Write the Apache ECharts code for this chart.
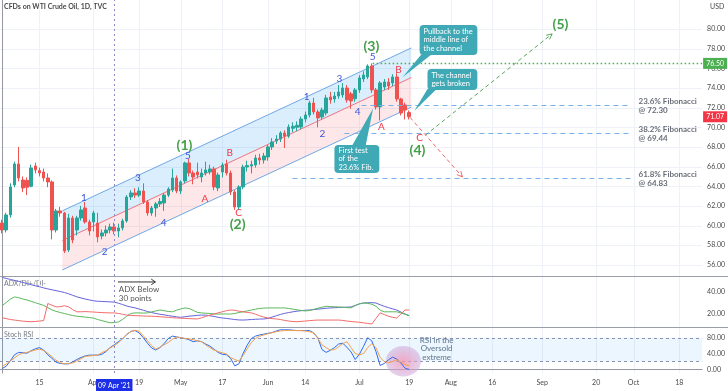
<!DOCTYPE html>
<html>
<head>
<meta charset="utf-8">
<script src="https://cdn.jsdelivr.net/npm/echarts@6.0.0/dist/echarts.min.js"></script>
<style>
html,body{margin:0;padding:0;background:#ffffff;}
#chart{width:728px;height:391px;}
</style>
</head>
<body>
<div id="chart"></div>
<script>
// ================= DATA =================
const holidays = ['2021-04-02'];
const categoryCount = 169;
const categories = [];
(function () {
  const d = new Date(Date.UTC(2021, 2, 2));
  while (categories.length < categoryCount) {
    const wd = d.getUTCDay();
    const s = d.toISOString().slice(0, 10);
    if (wd !== 0 && wd !== 6 && holidays.indexOf(s) < 0) categories.push(s);
    d.setUTCDate(d.getUTCDate() + 1);
  }
})();

const dateTickDates = ['2021-03-15','2021-04-01','2021-04-09','2021-04-19','2021-05-03','2021-05-17','2021-06-01','2021-06-14','2021-07-01','2021-07-19','2021-08-02','2021-08-16','2021-09-01','2021-09-20','2021-10-01','2021-10-18'];
const dateTickLabels = ['15','Apr',"09 Apr '21",'19','May','17','Jun','14','Jul','19','Aug','16','Sep','20','Oct','18'];
const markedDate = '2021-04-09';

// [open, close, low, high]
const candles = [
[60.26,59.55,59.2,60.6],[59.55,61.08,59.3,61.3],[61.08,63.93,60.8,64.3],[64.13,66.27,63.9,66.5],[66.27,64.84,64.5,68.0],
[64.64,63.83,63.4,65.0],[64.6,63.9,63.1,64.9],[64.0,65.86,63.9,66.2],[66.06,65.66,65.3,66.4],[65.6,65.35,65.0,65.9],
[65.45,64.84,64.5,65.8],[64.84,64.44,63.9,65.3],[64.44,59.55,58.6,64.6],[59.55,61.49,59.3,61.7],[61.49,61.28,60.9,61.9],
[61.28,57.42,57.2,61.4],[57.52,60.77,57.3,61.2],[60.77,58.54,58.2,61.0],[59.55,60.77,59.0,61.0],[60.77,61.59,60.5,62.0],
[61.79,60.37,60.2,62.4],[60.37,59.45,59.0,60.6],[60.37,61.28,59.4,61.5],[60.26,58.84,58.3,61.3],[58.94,59.25,58.6,59.6],
[59.25,59.55,58.9,60.0],[59.55,59.86,59.2,60.2],[59.86,59.45,59.1,60.3],[59.45,59.76,58.8,60.2],[59.76,60.47,59.5,60.7],
[60.47,62.91,60.3,63.1],[62.91,63.32,62.6,63.6],[63.32,63.1,62.8,63.8],[63.1,63.52,62.9,63.9],[63.52,62.4,62.2,64.3],
[62.4,61.28,61.0,62.6],[61.28,61.79,61.0,62.0],[61.79,62.2,60.9,62.4],[62.2,62.45,61.9,62.8],[62.3,63.1,61.5,63.3],
[63.1,63.72,62.9,63.9],[63.62,64.84,63.4,65.8],[64.84,63.52,63.3,65.1],[63.52,64.44,63.2,64.6],[64.54,66.37,64.3,66.5],
[66.37,65.35,65.0,66.8],[65.35,64.94,64.2,65.6],[65.45,65.15,64.8,66.4],[64.94,65.35,64.4,65.8],[65.35,65.66,65.1,66.5],
[65.45,65.76,65.2,66.2],[65.76,63.93,63.6,66.0],[63.83,65.15,63.5,65.4],[65.45,66.16,64.9,66.4],[66.27,65.35,65.1,66.7],
[65.35,63.42,63.1,65.6],[63.42,61.89,61.6,63.6],[61.89,63.93,61.6,64.1],[63.93,65.96,63.7,66.2],[65.96,66.1,65.5,66.6],
[66.06,66.2,65.3,66.6],[66.16,66.88,65.9,67.2],[66.88,66.67,66.2,67.3],[66.67,67.08,66.3,67.4],[66.98,68.0,66.6,68.2],
[68.0,68.5,67.7,68.9],[68.6,68.8,68.3,69.2],[68.8,69.42,68.5,69.6],[69.42,69.1,67.9,69.7],[69.1,70.03,68.9,70.3],
[69.9,70.1,69.5,70.5],[70.0,70.2,69.6,70.6],[70.03,70.84,69.8,71.1],[70.84,71.25,70.5,71.6],[71.25,72.47,71.0,72.7],
[72.47,71.56,71.3,73.0],[71.56,70.95,70.0,71.8],[71.05,71.76,70.8,72.0],[71.45,72.98,71.2,73.3],[73.08,72.78,72.4,73.6],
[72.88,73.18,72.5,73.6],[73.18,73.59,72.9,74.3],[73.29,74.0,73.0,74.5],[74.0,72.78,72.5,74.3],[73.4,72.68,71.9,73.6],
[72.9,73.8,72.6,74.0],[73.8,75.02,73.5,75.3],[74.91,75.32,74.6,75.7],[75.12,76.24,74.9,76.4],[76.24,73.8,73.5,76.5],
[73.8,72.07,71.8,74.0],[72.07,74.51,70.7,74.7],[74.1,74.61,73.8,74.9],[74.6,74.2,73.8,75.0],[74.51,75.12,74.2,75.4],
[75.12,72.88,72.6,75.5],[72.88,71.45,71.2,73.0],[72.27,71.76,70.8,72.5],[71.5,71.07,70.8,71.7]
];

const adx = [53.2,52.3,51.4,50.5,49.6,48.7,47.6,46.6,45.6,44.8,43.7,42.8,42.0,41.2,40.4,39.5,38.4,37.0,35.6,34.6,
33.6,32.8,32.0,31.6,31.4,31.2,31.0,30.8,29.8,28.6,27.3,26.3,25.6,24.5,23.4,22.3,21.3,20.5,19.8,19.2,
18.6,18.0,17.4,17.0,17.5,18.0,18.4,18.8,19.0,19.0,18.4,17.8,17.0,16.4,16.0,15.5,15.0,14.6,14.5,14.7,
15.0,15.2,15.4,15.5,16.0,17.2,18.4,19.6,20.6,21.3,22.0,22.6,23.0,23.4,23.6,24.0,24.4,24.8,25.2,25.5,
25.7,25.9,26.1,26.2,26.4,27.8,29.2,30.0,30.2,30.3,30.0,28.4,27.0,25.8,24.7,23.6,21.8,20.0,18.3];
const diPlus = [27.5,30.5,33.5,35.5,34.8,33.6,32.7,31.5,30.3,29.0,27.8,25.8,23.8,22.4,21.4,20.4,19.5,18.6,18.0,17.6,
17.2,16.8,16.3,15.0,14.0,13.0,12.0,12.3,12.8,15.0,18.0,20.5,21.0,21.0,20.8,21.0,22.0,22.8,23.6,23.0,
22.3,22.0,23.5,24.6,25.5,25.0,23.4,21.5,21.0,20.7,20.5,20.0,20.0,20.0,20.0,20.0,20.4,21.4,22.0,22.8,
23.6,24.4,25.0,25.4,25.5,25.5,25.5,25.5,25.5,25.0,24.4,23.8,23.2,22.8,23.2,24.2,25.2,26.2,27.0,26.8,
26.6,26.4,26.1,25.8,25.6,27.6,29.2,30.0,29.6,28.9,27.0,23.5,22.0,22.0,22.0,22.0,21.0,19.8,18.6];
const diMinus = [16.6,15.8,15.0,14.5,14.0,13.5,13.2,13.0,13.2,13.6,14.0,29.5,28.0,26.5,26.6,27.5,26.5,24.0,22.0,22.0,
22.2,22.0,21.8,21.5,21.3,21.1,21.0,21.0,20.5,19.8,19.0,18.7,18.5,18.4,18.2,18.0,18.0,17.8,17.5,17.2,
17.0,16.6,16.4,16.2,16.0,15.8,15.6,15.5,16.5,17.8,19.0,20.0,21.0,22.0,23.0,23.6,23.4,22.6,22.0,21.4,
21.0,19.8,18.4,17.2,16.4,15.8,15.5,15.0,14.2,13.6,13.2,13.0,13.3,13.6,14.0,14.3,14.5,14.5,14.5,14.5,
14.5,14.5,14.2,13.6,13.2,12.8,12.5,12.0,11.4,11.0,16.0,21.0,19.5,18.0,17.0,16.4,20.0,23.6,23.6];
const stochK = [2,8,22,37,43,42,41,47,52,55,49,37,28,18,15,14,14,19,25,30,
34,36,36,36,38,45,55,62,70,77,88,96,98,92,80,66,54,49,55,65,
78,84,82,80,78,75,70,72,70,64,59,51,43,38,37,28,9,14,40,61,
78,84,87,89,91,93,97,100,100,100,99,98,98,98,98,92,80,50,43,48,
55,64,66,56,44,25,38,58,80,72,45,10,15,24,31,26,16,3,0];
const stochD = [7,14,21,29,37,41,43,46,49,51,48,41,32,23,17,14,15,16,21,27,
33,34,35,36,42,47,54,60,67,78,89,95,99,96,85,72,60,51,56,62,
68,76,82,80,78,77,75,72,70,62,55,49,45,42,39,30,25,21,35,52,
68,78,84,87,90,93,95,97,98,98,98,98,98,97,95,92,78,62,55,49,
50,57,65,70,55,40,37,40,55,65,55,30,20,17,20,24,18,12,9];

const priceTicks = [56,58,60,62,64,66,68,70,72,74,76,78,80];
const adxTicks = [20,40];
const stochTicks = [0,40,80];
const stochBand = [20,80];

const fibNames = ['23.6%','38.2%','61.8%'];
const fibValues = [72.30,69.44,64.83];
const resistanceLevel = 76.50;
const lastPrice = 71.07;

// ================= ANNOTATION PLACEMENT (index, price) =================
const channelIdx = [14.5, 98.5];
const channelUpper = [61.5, 78.07];
const channelLower = [55.48, 72.05];
const fibStartIdx = [86.5, 82.4, 69.9];
const fibEndIdx = 151.4;
const fibLabelIdx = 153.2;
const resistanceStartIdx = 89.2;

const waveTexts = ['1','2','3','4','5','(1)','A','B','C','(2)','1','2','3','4','5','(3)','A','B','C','(4)','(5)'];
const waveKinds = ['b','b','b','b','b','g','r','r','r','g','b','b','b','b','b','g','r','r','r','g','g'];
const waveIdx = [19.7,24.7,32.7,38.9,44.7,43.9,48.8,54.8,56.95,56.7,73.3,77.1,81.2,85.6,89.2,88.9,91.3,95.4,100.5,100.0,134.4];
const wavePrice = [62.81,57.31,64.84,60.26,67.08,68.1,62.71,67.39,61.28,60.16,73.08,69.32,74.91,71.56,77.15,78.17,70.03,75.83,68.91,67.69,80.41];

const projRed = [[98.2, 71.0],[110.8, 64.95]];
const projGreen = [[101.9, 69.2],[132.4, 79.5]];

const callouts = [
  {text:'Pullback to the\nmiddle line of\nthe channel', box:[100.5,80.41,114.4,77.35], base:[101.0,103.5], baseSide:'bottom', tip:[96.4,75.1]},
  {text:'The channel\ngets broken', box:[102.4,75.93,114.4,73.79], base:[102.4,104.6], baseSide:'bottom', tip:[99.2,71.66]},
  {text:'First test\nof the\n23.6% Fib.', box:[80.0,68.2,90.8,65.35], base:[84.2,87.5], baseSide:'top', tip:[89.3,71.9]}
];

const adxArrow = [[27.9,49.1],[36.9,49.1]];
const adxNote = {text:'ADX Below\n30 points', at:[28.1,46.6]};
const rsiCircle = [96.6, 20.5];
const rsiNote = {text:'RSI in the\nOversold\nextreme', at:[104.6, 52]};

// ================= CHART =================
const FONT = "Lato, 'Open Sans', 'DejaVu Sans', sans-serif";
const chart = echarts.init(document.getElementById('chart'), null, {renderer:'canvas'});
const tickSet = {};
dateTickDates.forEach((d,i)=>{tickSet[d]=dateTickLabels[i];});
const tickIdx = dateTickDates.filter(d=>d!==markedDate).map(d=>categories.indexOf(d));

const gridDefs = [{top:0,height:276},{top:277,height:50},{top:328,height:50}];
const yRanges = [[54.87,82.95],[8.2,53.6],[-9.1,104.5]];

function hiddenCat(g){
  return {type:'category', gridIndex:g, data:categories, boundaryGap:true,
    axisLine:{show:false}, axisTick:{show:false}, axisLabel:{show:false}, splitLine:{show:false}};
}
function hiddenVal(g){
  return {type:'value', gridIndex:g, min:-0.5, max:categoryCount-0.5, show:false};
}
const bottomCat = {type:'category', gridIndex:2, data:categories, boundaryGap:true,
  axisLine:{show:true, lineStyle:{color:'#9598a1'}}, axisTick:{show:false},
  axisLabel:{show:true, fontSize:7, color:'#4a4a4a', margin:6, fontFamily:FONT, hideOverlap:false,
    interval:(i,v)=>tickSet[v]!==undefined,
    formatter:(v)=> v===markedDate ? '{hl|'+tickSet[v]+'}' : tickSet[v],
    rich:{hl:{backgroundColor:'#1c2fe6', color:'#ffffff', fontSize:7, padding:[3,2,2,2], fontFamily:FONT}}},
  splitLine:{show:false}};

function yAxisDef(g, ticks){
  return {type:'value', gridIndex:g, position:'right', min:yRanges[g][0], max:yRanges[g][1], scale:true,
    axisLine:{show:true, lineStyle:{color:'#9598a1'}},
    axisTick:{show:false, customValues:ticks},
    axisLabel:{show:true, customValues:ticks, fontSize:7, color:'#4a4a4a', margin:5, fontFamily:FONT,
      formatter:(v)=>Number(v).toFixed(2)},
    splitLine:{show:false}};
}

function arrowHead(p1, p2, len, spread){
  const a = Math.atan2(p2[1]-p1[1], p2[0]-p1[0]);
  return [[p2[0]-len*Math.cos(a-spread), p2[1]-len*Math.sin(a-spread)], p2,
          [p2[0]-len*Math.cos(a+spread), p2[1]-len*Math.sin(a+spread)]];
}

function gridSeries(g, hTicks){
  return {type:'custom', xAxisIndex:2*g+1, yAxisIndex:g, z:0, silent:true, data:[0],
    renderItem:(params, api)=>{
      const ch = [];
      const yr = yRanges[g];
      tickIdx.forEach(k=>{
        const a = api.coord([k, yr[0]]), b = api.coord([k, yr[1]]);
        ch.push({type:'line', shape:{x1:Math.round(a[0])+0.5,y1:a[1],x2:Math.round(a[0])+0.5,y2:b[1]}, style:{stroke:'#eef1f7', lineWidth:1}});
      });
      (hTicks||[]).forEach(v=>{
        const a = api.coord([-0.5, v]), b = api.coord([categoryCount-0.5, v]);
        ch.push({type:'line', shape:{x1:a[0],y1:Math.round(a[1])+0.5,x2:b[0],y2:Math.round(a[1])+0.5}, style:{stroke:'#eef1f7', lineWidth:1}});
      });
      return {type:'group', children:ch};
    }};
}

const kindColor = {b:'#3c55d8', r:'#f23645', g:'#43a047'};
const kindSize = {b:10, r:10, g:14};
const teal = '#3fa9b6';

const option = {
  animation:false,
  backgroundColor:'#ffffff',
  textStyle:{fontFamily:FONT},
  grid: gridDefs.map(g=>({left:0, right:25, top:g.top, height:g.height, containLabel:false})),
  xAxis:[hiddenCat(0), hiddenVal(0), hiddenCat(1), hiddenVal(1), bottomCat, hiddenVal(2)],
  yAxis:[yAxisDef(0, priceTicks), yAxisDef(1, adxTicks), yAxisDef(2, stochTicks)],
  graphic:[
    {type:'text', left:4, top:3, style:{text:'CFDs on WTI Crude Oil, 1D, TVC', fontSize:7, fontWeight:700, fill:'#4a4a4a', fontFamily:FONT}},
    {type:'text', left:710, top:3, style:{text:'USD', fontSize:7, fill:'#4a4a4a', fontFamily:FONT}},
    {type:'text', left:4, top:280, style:{text:'ADX/DI+/DI-', fontSize:7, fill:'#787b86', fontFamily:FONT}},
    {type:'text', left:4, top:331, style:{text:'Stoch RSI', fontSize:7, fill:'#787b86', fontFamily:FONT}},
    {type:'line', shape:{x1:0,y1:276.5,x2:728,y2:276.5}, style:{stroke:'#9a9ea8', lineWidth:1}, z:50},
    {type:'line', shape:{x1:0,y1:327.5,x2:728,y2:327.5}, style:{stroke:'#9a9ea8', lineWidth:1}, z:50}
  ],
  series:[
    gridSeries(0, priceTicks),
    gridSeries(1, []),
    gridSeries(2, []),
    {type:'custom', xAxisIndex:1, yAxisIndex:0, z:1, silent:true, data:[0],
      renderItem:(params, api)=>{
        const u0 = api.coord([channelIdx[0], channelUpper[0]]), u1 = api.coord([channelIdx[1], channelUpper[1]]);
        const l0 = api.coord([channelIdx[0], channelLower[0]]), l1 = api.coord([channelIdx[1], channelLower[1]]);
        const m0 = api.coord([channelIdx[0], (channelUpper[0]+channelLower[0])/2]);
        const m1 = api.coord([channelIdx[1], (channelUpper[1]+channelLower[1])/2]);
        return {type:'group', children:[
          {type:'polygon', shape:{points:[u0,u1,m1,m0]}, style:{fill:'rgba(33,150,243,0.16)'}},
          {type:'polygon', shape:{points:[m0,m1,l1,l0]}, style:{fill:'rgba(242,54,69,0.12)'}},
          {type:'line', shape:{x1:u0[0],y1:u0[1],x2:u1[0],y2:u1[1]}, style:{stroke:'#6fa8e6', lineWidth:1}},
          {type:'line', shape:{x1:l0[0],y1:l0[1],x2:l1[0],y2:l1[1]}, style:{stroke:'#6fa8e6', lineWidth:1}},
          {type:'line', shape:{x1:m0[0],y1:m0[1],x2:m1[0],y2:m1[1]}, style:{stroke:'#f07480', lineWidth:1}}
        ]};
      }},
    {type:'candlestick', xAxisIndex:0, yAxisIndex:0, z:3, data:candles, barWidth:3,
      itemStyle:{color:'#26a69a', color0:'#ef5350', borderColor:'#26a69a', borderColor0:'#ef5350', borderWidth:1},
      markLine:{symbol:'none', silent:true, label:{show:false}, lineStyle:{color:'#8d89c9', type:[2,3], width:1},
        data:[{xAxis:markedDate}]}},
    {type:'custom', xAxisIndex:1, yAxisIndex:0, z:4, silent:true, data:fibValues.map((v,i)=>[fibStartIdx[i], v]),
      renderItem:(params, api)=>{
        const i = params.dataIndex;
        const v = fibValues[i];
        const a = api.coord([fibStartIdx[i], v]), b = api.coord([fibEndIdx, v]);
        const t = api.coord([fibLabelIdx, v]);
        const ch = [
          {type:'line', shape:{x1:a[0],y1:Math.round(a[1])+0.5,x2:b[0],y2:Math.round(a[1])+0.5}, style:{stroke:'#79b0ea', lineWidth:1, lineDash:[5,4]}},
          {type:'text', x:t[0], y:t[1]+1, style:{text:fibNames[i]+' Fibonacci\n@ '+v.toFixed(2), fontSize:8, lineHeight:9, fill:'#6b6e78', fontWeight:700, verticalAlign:'middle', fontFamily:FONT}}
        ];
        if (i===0){
          const r0 = api.coord([resistanceStartIdx, resistanceLevel]), r1 = api.coord([categoryCount-0.5, resistanceLevel]);
          ch.push({type:'line', shape:{x1:r0[0],y1:Math.round(r0[1])+0.5,x2:r1[0],y2:Math.round(r0[1])+0.5}, style:{stroke:'#4caf50', lineWidth:1.3, lineDash:[1.5,2.5]}});
        }
        return {type:'group', children:ch};
      }},
    {type:'custom', xAxisIndex:1, yAxisIndex:0, z:5, silent:true, data:[0],
      renderItem:(params, api)=>{
        const ch = [];
        [[projRed,'#ef6a6a'],[projGreen,'#5aa65e']].forEach(([p,c])=>{
          const a = api.coord(p[0]), b = api.coord(p[1]);
          ch.push({type:'line', shape:{x1:a[0],y1:a[1],x2:b[0],y2:b[1]}, style:{stroke:c, lineWidth:1, lineDash:[4,3]}});
          ch.push({type:'polyline', shape:{points:arrowHead(a,b,6,0.45)}, style:{stroke:c, lineWidth:1, fill:null}});
        });
        return {type:'group', children:ch};
      }},
    {type:'custom', xAxisIndex:1, yAxisIndex:0, z:6, silent:true, data:waveIdx.map((k,i)=>[k, wavePrice[i]]),
      renderItem:(params, api)=>{
        const i = params.dataIndex;
        const p = api.coord([api.value(0), api.value(1)]);
        const kd = waveKinds[i];
        return {type:'text', x:p[0], y:p[1], style:{text:waveTexts[i], fill:kindColor[kd], fontSize:kindSize[kd],
          fontWeight: kd==='g'?700:400, align:'center', verticalAlign:'middle', fontFamily:FONT}};
      }},
    {type:'custom', xAxisIndex:1, yAxisIndex:0, z:8, silent:true, data:callouts.map(c=>[c.tip[0], c.tip[1]]),
      renderItem:(params, api)=>{
        const c = callouts[params.dataIndex];
        const tl = api.coord([c.box[0], c.box[1]]), br = api.coord([c.box[2], c.box[3]]);
        const tip = api.coord(c.tip);
        const yb = c.baseSide==='bottom' ? br[1]-1 : tl[1]+1;
        const b0 = api.coord([c.base[0], c.box[1]]), b1 = api.coord([c.base[1], c.box[1]]);
        return {type:'group', children:[
          {type:'polygon', shape:{points:[[b0[0],yb],[b1[0],yb],tip]}, style:{fill:teal}},
          {type:'rect', shape:{x:tl[0], y:tl[1], width:br[0]-tl[0], height:br[1]-tl[1], r:4}, style:{fill:teal}},
          {type:'text', x:tl[0]+4, y:(tl[1]+br[1])/2, style:{text:c.text, fill:'#ffffff', fontSize:7.5, lineHeight:8.5, verticalAlign:'middle', fontFamily:FONT}}
        ]};
      }},
    {type:'custom', xAxisIndex:1, yAxisIndex:0, z:20, silent:true, clip:false, data:[[categoryCount-0.5, resistanceLevel],[categoryCount-0.5, lastPrice]],
      renderItem:(params, api)=>{
        const v = api.value(1);
        const p = api.coord([api.value(0), v]);
        const col = params.dataIndex===0 ? '#4caf50' : '#f23645';
        return {type:'group', children:[
          {type:'rect', shape:{x:p[0]+1, y:p[1]-5.5, width:24, height:11}, style:{fill:col}},
          {type:'text', x:p[0]+13, y:p[1], style:{text:v.toFixed(2), fill:'#ffffff', fontSize:7, align:'center', verticalAlign:'middle', fontFamily:FONT}}
        ]};
      }},
    {type:'line', xAxisIndex:2, yAxisIndex:1, data:adx, showSymbol:false, z:3, lineStyle:{color:'#6563d8', width:1},
      markLine:{symbol:'none', silent:true, label:{show:false}, lineStyle:{color:'#8d89c9', type:[2,3], width:1}, data:[{xAxis:markedDate}]}},
    {type:'line', xAxisIndex:2, yAxisIndex:1, data:diPlus, showSymbol:false, z:3, lineStyle:{color:'#5cb85c', width:1}},
    {type:'line', xAxisIndex:2, yAxisIndex:1, data:diMinus, showSymbol:false, z:3, lineStyle:{color:'#f26b6b', width:1}},
    {type:'custom', xAxisIndex:3, yAxisIndex:1, z:6, silent:true, data:[0],
      renderItem:(params, api)=>{
        const a = api.coord(adxArrow[0]), b = api.coord(adxArrow[1]);
        const t = api.coord(adxNote.at);
        return {type:'group', children:[
          {type:'line', shape:{x1:a[0],y1:a[1],x2:b[0],y2:b[1]}, style:{stroke:'#333333', lineWidth:1}},
          {type:'polyline', shape:{points:arrowHead(a,b,5,0.6)}, style:{stroke:'#333333', lineWidth:1, fill:null}},
          {type:'text', x:t[0], y:t[1], style:{text:adxNote.text, fill:'#555555', fontSize:8, lineHeight:9, fontFamily:FONT}}
        ]};
      }},
    {type:'custom', xAxisIndex:5, yAxisIndex:2, z:1, silent:true, data:[0],
      renderItem:(params, api)=>{
        const a = api.coord([-0.5, stochBand[1]]), b = api.coord([categoryCount-0.5, stochBand[0]]);
        return {type:'group', children:[
          {type:'rect', shape:{x:a[0], y:a[1], width:b[0]-a[0], height:b[1]-a[1]}, style:{fill:'rgba(33,150,243,0.09)'}},
          {type:'line', shape:{x1:a[0],y1:Math.round(a[1])+0.5,x2:b[0],y2:Math.round(a[1])+0.5}, style:{stroke:'#8a93b0', lineWidth:1, lineDash:[3,3]}},
          {type:'line', shape:{x1:a[0],y1:Math.round(b[1])+0.5,x2:b[0],y2:Math.round(b[1])+0.5}, style:{stroke:'#8a93b0', lineWidth:1, lineDash:[3,3]}}
        ]};
      }},
    {type:'custom', xAxisIndex:5, yAxisIndex:2, z:2, silent:true, data:[0],
      renderItem:(params, api)=>{
        const c = api.coord(rsiCircle);
        const t = api.coord(rsiNote.at);
        return {type:'group', children:[
          {type:'circle', shape:{cx:0, cy:0, r:16}, x:c[0], y:c[1], scaleX:1.1, scaleY:0.95,
            style:{fill:new echarts.graphic.RadialGradient(0.5,0.5,0.5,[{offset:0,color:'rgba(244,143,177,0.75)'},{offset:1,color:'rgba(206,170,220,0.55)'}])}},
          {type:'text', x:t[0], y:t[1], style:{text:rsiNote.text, fill:'#5f7590', fontSize:8, lineHeight:8.5, align:'center', verticalAlign:'middle', fontFamily:FONT}}
        ]};
      }},
    {type:'line', xAxisIndex:4, yAxisIndex:2, data:stochK, showSymbol:false, z:3, lineStyle:{color:'#2f6bf0', width:1},
      markLine:{symbol:'none', silent:true, label:{show:false}, lineStyle:{color:'#8d89c9', type:[2,3], width:1}, data:[{xAxis:markedDate}]}},
    {type:'line', xAxisIndex:4, yAxisIndex:2, data:stochD, showSymbol:false, z:3, lineStyle:{color:'#f5a04a', width:1}}
  ]
};
chart.setOption(option);
</script>
</body>
</html>
